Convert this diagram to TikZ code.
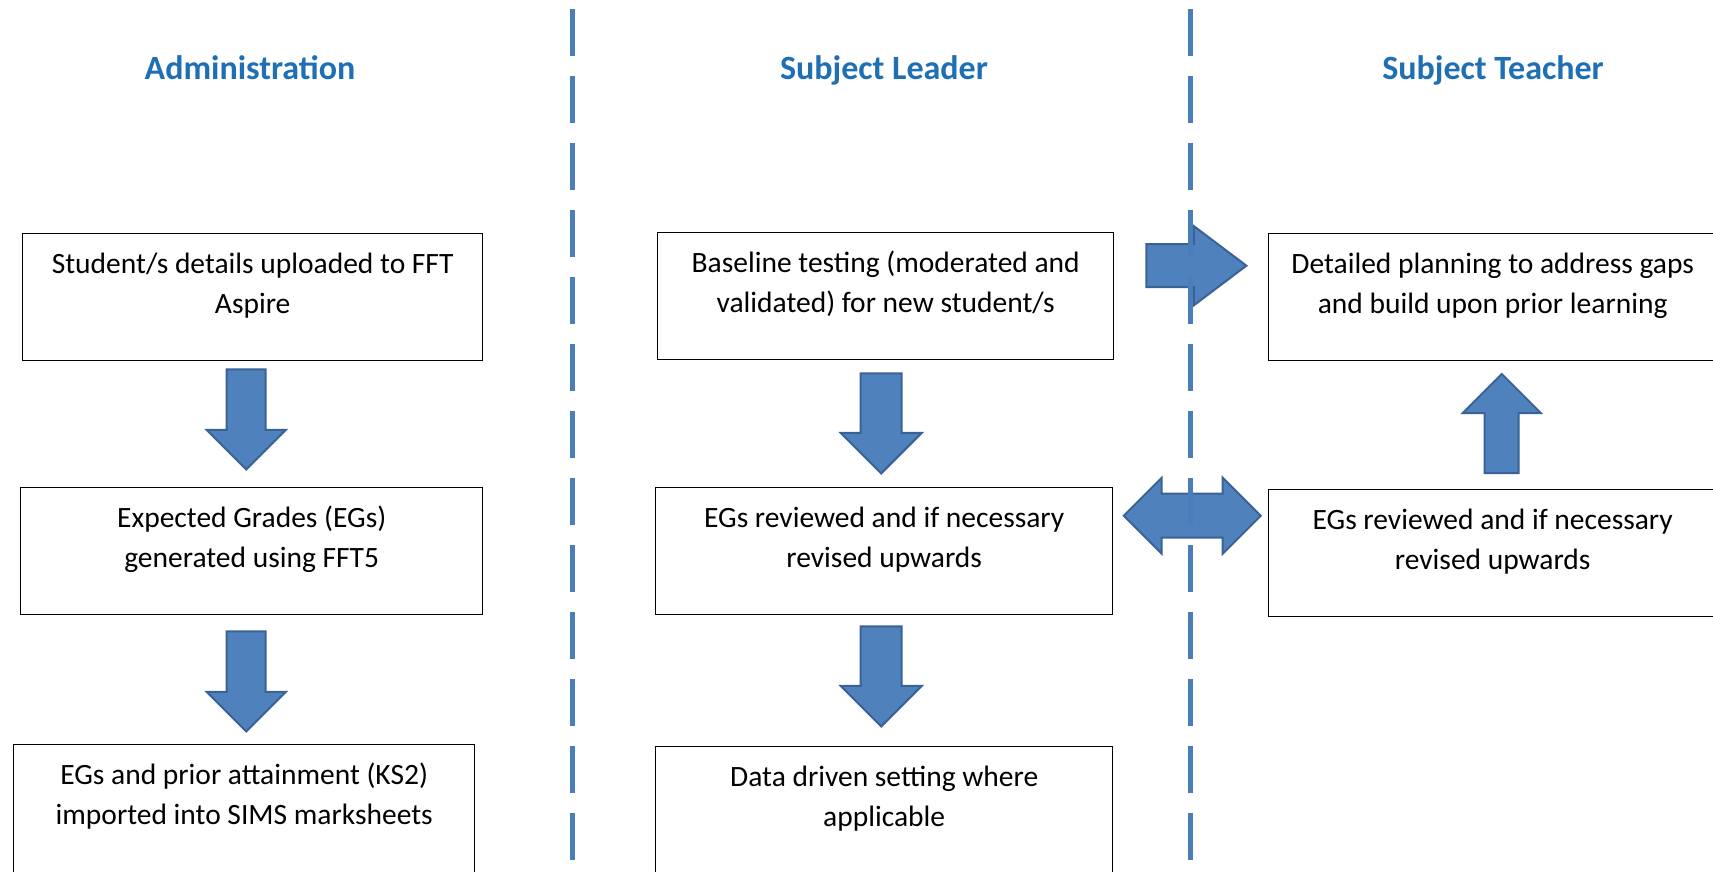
\documentclass[tikz,border=0pt]{standalone}
\usepackage{fontspec}
\setmainfont{Carlito}
\usetikzlibrary{shapes.arrows,calc}

\definecolor{titleblue}{HTML}{1F6FB5}
\definecolor{arrowfill}{HTML}{4F81BD}
\definecolor{arrowline}{HTML}{3A6395}
\definecolor{laneblue}{HTML}{4A7EBB}

% text sits at the top of each stage box
\newcommand{\boxtxt}[3][63.5pt]{\parbox[c][#1][t]{#2}{\centering\rule{0pt}{20pt}#3}}

\tikzset{
  stagebox/.style={draw=black, line width=0.7pt, inner sep=0pt, anchor=north west,
    font=\fontsize{14.75}{20}\selectfont},
  lanetitle/.style={anchor=base, text=titleblue, font=\bfseries\fontsize{17}{20}\selectfont},
  lane/.style={draw=laneblue, line width=2.5pt, dash pattern=on 23.5pt off 10pt},
  blockarrow/.style={fill=arrowfill, draw=arrowline, line width=1pt},
  downblock/.style={blockarrow, single arrow, shape border rotate=270, anchor=tail,
    single arrow tip angle=90, single arrow head extend=10pt,
    minimum height=50pt, minimum width=39pt, inner sep=9.25pt},
}

\begin{document}
\begin{tikzpicture}[x=0.5pt, y=-0.5pt]
  \useasboundingbox (0,0) rectangle (1713,872);
  \fill[white] (0,0) rectangle (1713,872);
  \clip (0,0) rectangle (1713,872);

  % lane titles
  \node[lanetitle] (tadm) at (250,80) {Administration};
  \node[lanetitle] (tlead) at (884,80) {Subject Leader};
  \node[lanetitle] (tteach) at (1493,80) {Subject Teacher};

  % administration
  \node[stagebox] (adm1) at (22,233) {\boxtxt{230pt}{Student/s details uploaded to FFT\\Aspire}};
  \node[stagebox] (adm2) at (20,487) {\boxtxt{231pt}{Expected Grades (EGs)\\generated using FFT5}};
  \node[stagebox] (adm3) at (13,744) {\boxtxt[75pt]{230.5pt}{EGs and prior attainment (KS2)\\imported into SIMS marksheets}};

  % subject leader
  \node[stagebox] (lead1) at (657,232) {\boxtxt{228pt}{Baseline testing (moderated and\\validated) for new student/s}};
  \node[stagebox] (lead2) at (655,487) {\boxtxt{228.5pt}{EGs reviewed and if necessary\\revised upwards}};
  \node[stagebox] (lead3) at (655,746) {\boxtxt[75pt]{228.5pt}{Data driven setting where\\applicable}};

  % subject teacher
  \node[stagebox] (teach1) at (1268,233) {\boxtxt{224pt}{Detailed planning to address gaps\\and build upon prior learning}};
  \node[stagebox] (teach2) at (1268,489) {\boxtxt{224pt}{EGs reviewed and if necessary\\revised upwards}};

  % block arrows
  \node[downblock] (a1) at ($(adm1.south)+(-6.5,7)$) {};
  \node[downblock] (a2) at ($(adm2.south)+(-5.5,15)$) {};
  \node[downblock, inner sep=9.75pt] (l1) at ($(lead1.south)+(-4.5,12)$) {};
  \node[downblock, inner sep=9.75pt] (l2) at ($(lead2.south)+(-3,10)$) {};
  \node[blockarrow, single arrow, anchor=tail, single arrow tip angle=74, single arrow head extend=9pt,
    minimum height=50pt, minimum width=39pt, inner sep=10.25pt]
    (r1) at ($(lead1.east)+(31,-30.5)$) {};
  \node[blockarrow, double arrow, double arrow tip angle=90, double arrow head extend=8pt,
    minimum height=68.5pt, minimum width=37pt, inner sep=10.5pt]
    (r2) at ($(lead2.east)!0.5!(teach2.west)+(1.5,-36.5)$) {};
  \node[blockarrow, single arrow, shape border rotate=90, anchor=tail, single arrow tip angle=90,
    single arrow head extend=11pt, minimum height=49.5pt, minimum width=39pt, inner sep=8pt]
    (u1) at ($(teach2.north)+(9,-15)$) {};

  % lane separators
  \foreach \x in {572, 1190} {
    \draw[lane] (\x,9) -- (\x,872);
  }
\end{tikzpicture}
\end{document}
